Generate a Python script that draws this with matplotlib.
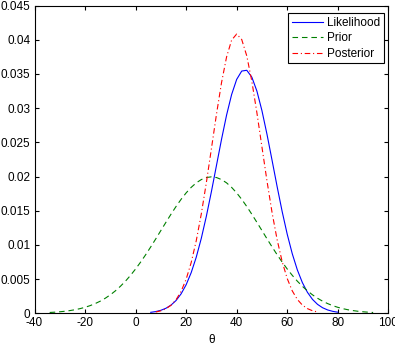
import matplotlib
matplotlib.use("Agg")
import matplotlib.pyplot as plt

# ---- data ----
prior_x = list(range(-34, 96, 2))
prior_y = [0.000119, 0.000163, 0.000222, 0.000298, 0.000396, 0.000521, 0.000679, 0.000876,
           0.00112, 0.00142, 0.00177, 0.00220, 0.00270, 0.00328, 0.00395, 0.00470,
           0.00555, 0.00648, 0.00749, 0.00857, 0.00971, 0.01089, 0.01210, 0.01330,
           0.01448, 0.01561, 0.01666, 0.01760, 0.01841, 0.01907, 0.01955, 0.01985,
           0.01995,
           0.01985, 0.01955, 0.01907, 0.01841, 0.01760, 0.01666, 0.01561, 0.01448,
           0.01330, 0.01210, 0.01089, 0.00971, 0.00857, 0.00749, 0.00648, 0.00555,
           0.00470, 0.00395, 0.00328, 0.00270, 0.00220, 0.00177, 0.00142, 0.00112,
           0.000876, 0.000679, 0.000521, 0.000396, 0.000298, 0.000222, 0.000163, 0.000119]

like_x = list(range(6, 82, 2))
like_y = [0.000143, 0.000255, 0.000440, 0.000736, 0.001191, 0.001866, 0.002835, 0.004171,
          0.005942, 0.008196, 0.010957, 0.014184, 0.017785, 0.021604, 0.025422, 0.028970,
          0.031980, 0.034195, 0.035416, 0.035529, 0.034524, 0.032494, 0.029624, 0.026160,
          0.022377, 0.018538, 0.014877, 0.011564, 0.008707, 0.006350, 0.004486, 0.003069,
          0.002034, 0.001306, 0.000812, 0.000489, 0.000285, 0.000161]

post_x = list(range(8, 74, 2))
post_y = [0.000188, 0.000361, 0.000663, 0.001169, 0.001975, 0.003201, 0.004975, 0.007416,
          0.010596, 0.014524, 0.019089, 0.024059, 0.029081, 0.033708, 0.037470, 0.039942,
          0.040830, 0.040025, 0.037627, 0.033921, 0.029326, 0.024313, 0.019331, 0.014738,
          0.010776, 0.007557, 0.005080, 0.003276, 0.002026, 0.001201, 0.000683, 0.000373,
          0.000195]

series_names = ["Likelihood", "Prior", "Posterior"]
x_ticks = [-40, -20, 0, 20, 40, 60, 80, 100]
x_tick_labels = ["-40", "-20", "0", "20", "40", "60", "80", "100"]
y_ticks = [0, 0.005, 0.01, 0.015, 0.02, 0.025, 0.03, 0.035, 0.04, 0.045]
y_tick_labels = ["0", "0.005", "0.01", "0.015", "0.02", "0.025", "0.03", "0.035", "0.04", "0.045"]
x_label = "θ"

# ---- style ----
plt.rcParams['font.family'] = ['Liberation Sans Narrow', 'Liberation Sans', 'DejaVu Sans']
plt.rcParams['font.size'] = 8.5

fig = plt.figure(figsize=(3.95, 3.48), dpi=100)
ax = fig.add_axes([34.5 / 395, 1 - 313.3 / 348, (388.3 - 34.5) / 395, (313.3 - 5.5) / 348])

ax.plot(like_x, like_y, color='#0000ff', lw=0.8, ls='-', label=series_names[0])
ax.plot(prior_x, prior_y, color='#008000', lw=0.8, ls=(0, (5, 3.5)), label=series_names[1])
ax.plot(post_x, post_y, color='#ff0000', lw=0.8, ls=(0, (5, 2.5, 1, 2.5)), label=series_names[2])

ax.set_xlim(-40, 100)
ax.set_ylim(0, 0.045)
ax.set_xticks(x_ticks)
ax.set_xticklabels(x_tick_labels)
ax.set_yticks(y_ticks)
ax.set_yticklabels(y_tick_labels)
ax.tick_params(direction='in', top=True, right=True, length=3, width=0.8, pad=3)
for s in ax.spines.values():
    s.set_linewidth(0.8)
ax.set_xlabel(x_label, labelpad=3)

leg = ax.legend(loc='upper right', bbox_to_anchor=(0.988, 0.975), fancybox=False,
                edgecolor='black', framealpha=1, handlelength=2.6, handletextpad=0.4,
                borderpad=0.3, labelspacing=0.3, borderaxespad=0)
leg.get_frame().set_linewidth(0.8)

fig.savefig("out.png", dpi=100)
